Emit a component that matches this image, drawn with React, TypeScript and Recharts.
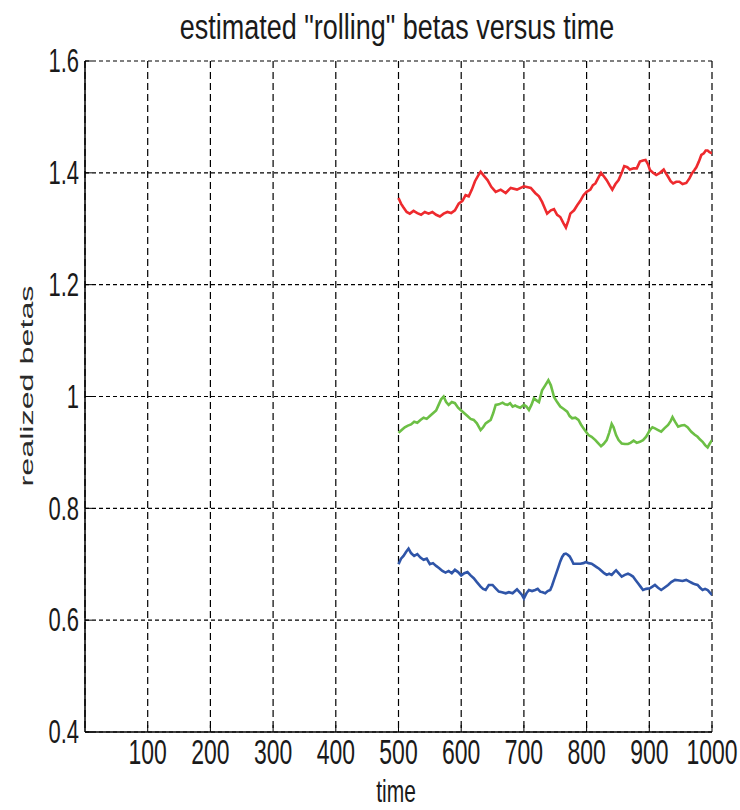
import React from "react";
import { LineChart, Line, XAxis, YAxis, CartesianGrid } from "recharts";

const xTicks = [100, 200, 300, 400, 500, 600, 700, 800, 900, 1000];
const yTicks = [0.4, 0.6, 0.8, 1.0, 1.2, 1.4, 1.6];
const yTickLabels = ["0.4", "0.6", "0.8", "1", "1.2", "1.4", "1.6"];

const redTime = [500, 504, 508, 513, 518, 524, 530, 536, 542, 548, 554, 560, 566, 572, 578, 584, 590, 596, 602, 607, 612, 617, 622, 627, 631, 636, 642, 648, 655, 663, 671, 679, 689, 700, 711, 718, 724, 729, 737, 743, 748, 753, 758, 763, 767, 771, 774, 780, 785, 790, 795, 800, 806, 810, 814, 819, 823, 828, 832, 837, 841, 846, 851, 856, 860, 865, 869, 875, 880, 885, 890, 894, 898, 901, 906, 911, 917, 923, 926, 930, 934, 938, 943, 948, 953, 959, 964, 968, 972, 975, 979, 983, 987, 990, 993, 996, 1000];
const redBeta = [1.355, 1.345, 1.338, 1.33, 1.327, 1.332, 1.328, 1.325, 1.33, 1.327, 1.33, 1.325, 1.322, 1.327, 1.33, 1.328, 1.333, 1.345, 1.35, 1.36, 1.358, 1.37, 1.385, 1.395, 1.402, 1.395, 1.387, 1.375, 1.366, 1.37, 1.364, 1.373, 1.37, 1.376, 1.373, 1.364, 1.358, 1.348, 1.327, 1.333, 1.335, 1.325, 1.321, 1.31, 1.302, 1.315, 1.327, 1.333, 1.342, 1.35, 1.36, 1.366, 1.37, 1.378, 1.381, 1.392, 1.4, 1.393, 1.387, 1.377, 1.37, 1.38, 1.387, 1.4, 1.412, 1.41, 1.406, 1.408, 1.408, 1.42, 1.422, 1.423, 1.415, 1.405, 1.4, 1.396, 1.4, 1.406, 1.4, 1.393, 1.385, 1.381, 1.384, 1.384, 1.38, 1.382, 1.39, 1.399, 1.405, 1.41, 1.42, 1.432, 1.435, 1.44, 1.44, 1.437, 1.435];

const greenTime = [500, 505, 510, 515, 520, 525, 530, 535, 540, 545, 550, 555, 560, 564, 568, 572, 576, 580, 585, 590, 595, 600, 605, 610, 615, 620, 625, 631, 635, 639, 643, 647, 651, 655, 660, 666, 670, 674, 678, 682, 686, 689, 694, 700, 704, 708, 712, 716, 720, 724, 729, 734, 739, 743, 746, 748, 753, 758, 763, 769, 773, 777, 782, 787, 791, 795, 799, 803, 808, 814, 818, 823, 827, 832, 836, 840, 843, 847, 851, 856, 861, 866, 870, 875, 880, 885, 890, 895, 898, 901, 905, 909, 914, 919, 924, 930, 934, 937, 941, 946, 951, 956, 961, 967, 972, 977, 981, 985, 989, 993, 996, 1000];
const greenBeta = [0.935, 0.94, 0.945, 0.948, 0.95, 0.955, 0.953, 0.958, 0.962, 0.96, 0.965, 0.97, 0.975, 0.985, 0.995, 1.0, 0.99, 0.985, 0.99, 0.988, 0.98, 0.975, 0.97, 0.965, 0.96, 0.958, 0.952, 0.94, 0.945, 0.952, 0.955, 0.958, 0.97, 0.985, 0.986, 0.989, 0.986, 0.985, 0.988, 0.982, 0.984, 0.982, 0.98, 0.985, 0.982, 0.976, 0.985, 0.997, 0.993, 0.99, 1.011, 1.02, 1.029, 1.02, 1.008, 0.999, 0.99, 0.982, 0.978, 0.973, 0.965, 0.961, 0.962, 0.958, 0.95, 0.943, 0.937, 0.931, 0.928, 0.922, 0.917, 0.911, 0.915, 0.922, 0.935, 0.951, 0.945, 0.931, 0.922, 0.916, 0.915, 0.915, 0.917, 0.921, 0.917, 0.919, 0.922, 0.928, 0.934, 0.94, 0.945, 0.943, 0.94, 0.937, 0.943, 0.949, 0.956, 0.963, 0.955, 0.946, 0.948, 0.949, 0.945, 0.937, 0.932, 0.928, 0.923, 0.919, 0.913, 0.909, 0.915, 0.922];

const blueTime = [500, 504, 508, 512, 516, 520, 525, 530, 535, 540, 545, 550, 555, 560, 565, 570, 575, 580, 585, 590, 595, 600, 605, 610, 615, 620, 625, 631, 635, 639, 644, 650, 655, 660, 665, 671, 676, 682, 686, 689, 693, 697, 700, 704, 708, 713, 718, 722, 726, 730, 734, 738, 742, 745, 748, 752, 755, 758, 761, 764, 767, 770, 773, 776, 779, 784, 790, 795, 799, 803, 808, 812, 816, 820, 824, 828, 832, 836, 840, 844, 847, 851, 856, 861, 866, 870, 874, 878, 882, 886, 890, 895, 901, 905, 909, 914, 919, 924, 930, 935, 941, 948, 953, 959, 964, 969, 973, 977, 981, 985, 989, 993, 996, 1000];
const blueBeta = [0.7, 0.71, 0.715, 0.722, 0.728, 0.72, 0.715, 0.718, 0.712, 0.708, 0.71, 0.7, 0.702, 0.697, 0.693, 0.688, 0.685, 0.688, 0.684, 0.69, 0.686, 0.68, 0.684, 0.686, 0.68, 0.675, 0.668, 0.66, 0.656, 0.654, 0.663, 0.663, 0.657, 0.651, 0.65, 0.648, 0.65, 0.648, 0.652, 0.655, 0.65, 0.645, 0.639, 0.648, 0.654, 0.652, 0.654, 0.656, 0.651, 0.65, 0.648, 0.652, 0.654, 0.662, 0.672, 0.685, 0.695, 0.705, 0.713, 0.718, 0.719, 0.717, 0.714, 0.708, 0.701, 0.701, 0.701, 0.702, 0.704, 0.702, 0.701, 0.698, 0.695, 0.692, 0.688, 0.684, 0.681, 0.683, 0.681, 0.686, 0.689, 0.684, 0.678, 0.681, 0.683, 0.681, 0.678, 0.672, 0.666, 0.66, 0.654, 0.656, 0.657, 0.66, 0.663, 0.658, 0.654, 0.658, 0.663, 0.668, 0.672, 0.671, 0.67, 0.672, 0.669, 0.666, 0.664, 0.663, 0.658, 0.654, 0.656, 0.654, 0.65, 0.645];

const toSeries = (t: number[], v: number[]) => t.map((tt, i) => ({ t: tt, v: v[i] }));
const redData = toSeries(redTime, redBeta);
const greenData = toSeries(greenTime, greenBeta);
const blueData = toSeries(blueTime, blueBeta);

const FONT = "'Liberation Sans', Arial, Helvetica, sans-serif";
const STRETCH = 1.5;
const TEXT = "#1a1a1a";

const XTick = (props: any) => {
  const { x, y, payload } = props;
  return (
    <text
      transform={`translate(${x},${y + 27}) scale(1,${STRETCH})`}
      textAnchor="middle"
      dominantBaseline="central"
      fontFamily={FONT}
      fontSize={23}
      fill={TEXT}
    >
      {String(payload.value)}
    </text>
  );
};

const YTick = (props: any) => {
  const { x, y, payload } = props;
  const idx = yTicks.findIndex((v) => Math.abs(v - payload.value) < 1e-9);
  const label = idx >= 0 ? yTickLabels[idx] : String(payload.value);
  return (
    <text
      transform={`translate(${x - 13},${y}) scale(1,${STRETCH})`}
      textAnchor="end"
      dominantBaseline="central"
      fontFamily={FONT}
      fontSize={22}
      fill={TEXT}
    >
      {label}
    </text>
  );
};

export default function App() {
  return (
    <div style={{ position: "absolute", left: 0, top: 0, width: 740, height: 810, background: "#fff" }}>
      <LineChart width={740} height={810} data={redData} margin={{ top: 61, right: 28, bottom: 0, left: 0 }}>
        <CartesianGrid horizontal={false} stroke="#000" strokeDasharray="7 4" strokeWidth={1.2} />
        <CartesianGrid vertical={false} stroke="#000" strokeDasharray="4 3" strokeWidth={1.2} />
        <XAxis
          dataKey="t"
          type="number"
          domain={[0, 1000]}
          ticks={xTicks}
          height={78}
          tickSize={-7}
          tickMargin={0}
          tick={<XTick />}
          axisLine={{ stroke: "#000", strokeWidth: 1.5 }}
          tickLine={{ stroke: "#000" }}
          allowDataOverflow
        />
        <XAxis
          xAxisId="top"
          orientation="top"
          dataKey="t"
          type="number"
          domain={[0, 1000]}
          ticks={xTicks}
          height={0}
          tickSize={-7}
          tick={false}
          axisLine={{ stroke: "#000", strokeWidth: 1.5 }}
          tickLine={{ stroke: "#000" }}
        />
        <YAxis
          type="number"
          domain={[0.4, 1.6]}
          ticks={yTicks}
          width={85}
          tickSize={-7}
          tickMargin={0}
          tick={<YTick />}
          axisLine={{ stroke: "#000", strokeWidth: 1.5 }}
          tickLine={{ stroke: "#000" }}
          allowDataOverflow
        />
        <YAxis
          yAxisId="right"
          orientation="right"
          type="number"
          domain={[0.4, 1.6]}
          ticks={yTicks}
          width={0}
          tickSize={-7}
          tick={false}
          axisLine={{ stroke: "#333", strokeWidth: 2.5 }}
          tickLine={{ stroke: "#000" }}
        />
        <Line data={redData} dataKey="v" type="linear" dot={false} stroke="#ee2a2e" strokeWidth={2.6} isAnimationActive={false} />
        <Line data={greenData} dataKey="v" type="linear" dot={false} stroke="#6cbf45" strokeWidth={2.6} isAnimationActive={false} />
        <Line data={blueData} dataKey="v" type="linear" dot={false} stroke="#2f55a8" strokeWidth={2.6} isAnimationActive={false} />
      </LineChart>
      <svg width={740} height={810} style={{ position: "absolute", left: 0, top: 0, pointerEvents: "none" }}>
        <text transform={`translate(397,27) scale(1,1.3)`} textAnchor="middle" dominantBaseline="central" fontFamily={FONT} fontSize={27} fill={TEXT}>
          estimated "rolling" betas versus time
        </text>
        <text transform={`translate(396,792) scale(1,1.45)`} textAnchor="middle" dominantBaseline="central" fontFamily={FONT} fontSize={21} fill={TEXT}>
          time
        </text>
        <text transform={`translate(27,386) scale(1,1.7) rotate(-90)`} textAnchor="middle" dominantBaseline="central" fontFamily={FONT} fontSize={19} fill="#2a2a2a">
          realized betas
        </text>
      </svg>
    </div>
  );
}
